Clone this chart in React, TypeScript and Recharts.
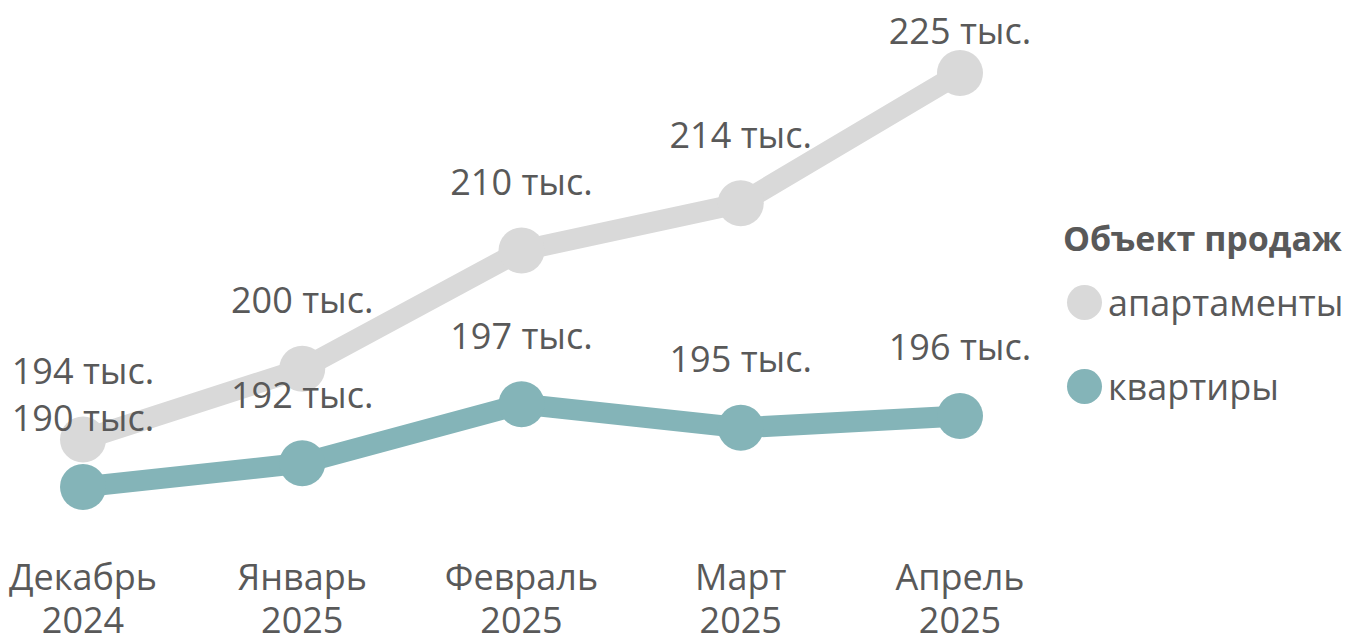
import React from 'react';
import { LineChart, Line, XAxis, YAxis, LabelList, Legend } from 'recharts';

const categories = ['Декабрь\n2024', 'Январь\n2025', 'Февраль\n2025', 'Март\n2025', 'Апрель\n2025'];
const apartments = [194, 200, 210, 214, 225];
const flats = [190, 192, 197, 195, 196];
const legendTitle = 'Объект продаж';
const seriesNames = { apartments: 'апартаменты', flats: 'квартиры' };

const data = categories.map((c, i) => ({ cat: c, apartments: apartments[i], flats: flats[i] }));

const FONT = '"Open Sans", sans-serif';
const TEXT = '#595959';
const GRAY = '#D9D9D9';
const TEAL = '#84B4B8';

const Tick = (props: any) => {
  const { x, y, payload } = props;
  const lines = String(payload.value).split('\n');
  return (
    <text x={x} y={y} textAnchor="middle" fill={TEXT} fontFamily={FONT} fontSize={36}>
      {lines.map((l, i) => (
        <tspan key={i} x={x} dy={i === 0 ? 44 : 43}>{l}</tspan>
      ))}
    </text>
  );
};

const makeLabel = () => (props: any) => {
  const { x, y, value } = props;
  const ly = Math.max(y - 69, 30);
  return (
    <text x={x} y={ly} textAnchor="middle" dominantBaseline="central" fill={TEXT} fontFamily={FONT} fontSize={36}>
      {value} тыс.
    </text>
  );
};

const LegendContent = (props: any) => {
  const { payload } = props;
  return (
    <div style={{ fontFamily: FONT, color: TEXT }}>
      <div style={{ height: 44, lineHeight: '44px', fontSize: 34, fontWeight: 700, whiteSpace: 'nowrap' }}>{legendTitle}</div>
      {(payload || []).map((p: any, i: number) => (
        <div key={i} style={{ height: 84, display: 'flex', alignItems: 'center' }}>
          <span style={{ display: 'inline-block', width: 35, height: 35, borderRadius: '50%', background: p.color, marginLeft: 4, marginRight: 6 }} />
          <span style={{ fontSize: 36, whiteSpace: 'nowrap' }}>{p.value}</span>
        </div>
      ))}
    </div>
  );
};

export default function App() {
  return (
    <div style={{ position: 'absolute', left: 0, top: 0, width: 1355, height: 642, background: '#fff' }}>
      <LineChart width={1355} height={642} data={data} margin={{ top: 14, right: 395, bottom: 0, left: 83 }}>
        <XAxis dataKey="cat" axisLine={false} tickLine={false} tickSize={0} tickMargin={0} height={96} tick={<Tick />} interval={0} />
        <YAxis hide domain={[185, 230]} />
        <Legend
          layout="horizontal"
          align="center"
          verticalAlign="middle"
          content={<LegendContent />}
          wrapperStyle={{ left: 1063, top: 216, width: 292 }}
        />
        <Line
          dataKey="apartments"
          name={seriesNames.apartments}
          stroke={GRAY}
          strokeWidth={21}
          dot={{ r: 23, fill: GRAY, stroke: 'none' }}
          activeDot={false}
          isAnimationActive={false}
        >
          <LabelList dataKey="apartments" content={makeLabel()} />
        </Line>
        <Line
          dataKey="flats"
          name={seriesNames.flats}
          stroke={TEAL}
          strokeWidth={21}
          dot={{ r: 23, fill: TEAL, stroke: 'none' }}
          activeDot={false}
          isAnimationActive={false}
        >
          <LabelList dataKey="flats" content={makeLabel()} />
        </Line>
      </LineChart>
    </div>
  );
}
